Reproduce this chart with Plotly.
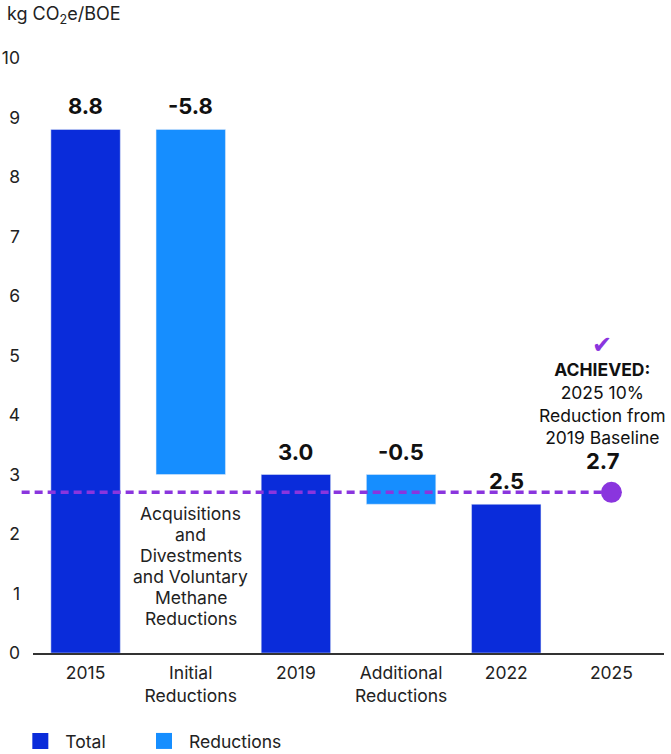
import plotly.graph_objects as go

categories = ["2015", "Initial<br>Reductions", "2019", "Additional<br>Reductions", "2022", "2025"]
total_values = [8.8, None, 3.0, None, 2.5, None]
reduction_values = [None, 5.8, None, 0.5, None, None]
reduction_bases = [None, 3.0, None, 2.5, None, None]
bar_labels = ["8.8", "-5.8", "3.0", "-0.5", "2.5", "2.7"]
target_value = 2.7
note_lines = ["Acquisitions", "and", "Divestments", "and Voluntary", "Methane", "Reductions"]
y_ticks = list(range(0, 11))

C_TOTAL = "#0A2CDA"
C_RED = "#168EFF"
C_TARGET = "#8A35DE"
FONT = "Inter"
FS = 17.5

fig = go.Figure()
fig.add_trace(go.Bar(x=categories, y=total_values, marker_color=C_TOTAL, width=0.66,
                     showlegend=False, hoverinfo="skip"))
fig.add_trace(go.Bar(x=categories, y=reduction_values, base=reduction_bases, marker_color=C_RED,
                     width=0.66, showlegend=False, hoverinfo="skip"))

n = len(categories)
fig.add_shape(type="line", xref="paper", yref="y", x0=-0.018, x1=(n - 1 + 0.5) / n,
              y0=target_value, y1=target_value, line=dict(color=C_TARGET, width=3.5, dash="8px,5px"),
              layer="above")
fig.add_trace(go.Scatter(x=[categories[-1]], y=[target_value], mode="markers",
                         marker=dict(color=C_TARGET, size=21), showlegend=False, hoverinfo="skip"))

# legend proxies (two legends for exact placement)
fig.add_trace(go.Scatter(x=[None], y=[None], mode="markers", name="Total", legend="legend",
                         marker=dict(symbol="square", size=19, color=C_TOTAL)))
fig.add_trace(go.Scatter(x=[None], y=[None], mode="markers", name="Reductions", legend="legend2",
                         marker=dict(symbol="square", size=19, color=C_RED)))

# value labels (x given as category index)
tops = []
for i in range(n):
    if total_values[i] is not None:
        tops.append(total_values[i])
    elif reduction_values[i] is not None:
        tops.append(reduction_values[i] + reduction_bases[i])
    else:
        tops.append(target_value)
for i, (t, lab) in enumerate(zip(tops, bar_labels)):
    fig.add_annotation(x=i, y=t, text=f"<b>{lab}</b>", showarrow=False, yanchor="bottom",
                       yshift=(16 if i == n - 1 else 8), xshift=(-9 if i == n - 1 else 0),
                       font=dict(size=22, color="#111111", family=FONT))

# note under initial reductions bar (one annotation per line for tighter leading)
for k, line in enumerate(note_lines):
    fig.add_annotation(x=1, y=reduction_bases[1], yanchor="middle", yshift=-39 - 21 * k,
                       showarrow=False, text=line,
                       font=dict(size=FS, color="#222222", family=FONT))

# achieved annotation
fig.add_annotation(x=n - 1, y=target_value, yanchor="bottom", yshift=42, xshift=-9,
                   showarrow=False, align="center",
                   text="<b>ACHIEVED:</b><br>2025 10%<br>Reduction from<br>2019 Baseline",
                   font=dict(size=FS, color="#111111", family=FONT))
fig.add_annotation(x=n - 1, y=target_value, yanchor="middle", yshift=147, xshift=-9,
                   showarrow=False, text="<b>✔</b>",
                   font=dict(size=24, color=C_TARGET, family="DejaVu Sans"))

# y-axis title
fig.add_annotation(xref="paper", yref="paper", x=(5 - 33) / 631, y=1 + (58 - 15) / 595,
                   xanchor="left", yanchor="middle", showarrow=False,
                   text="kg CO<sub>2</sub>e/BOE", font=dict(size=18, color="#222222", family=FONT))

legend_common = dict(orientation="h", y=-0.148, yanchor="middle", xanchor="left",
                     font=dict(size=FS, family=FONT, color="#222222"), itemwidth=40,
                     bgcolor="rgba(0,0,0,0)")

fig.update_layout(
    width=671, height=754,
    margin=dict(l=33, r=7, t=58, b=101, autoexpand=False),
    barmode="overlay",
    plot_bgcolor="white", paper_bgcolor="white",
    font=dict(family=FONT, size=FS, color="#222222"),
    showlegend=True,
    legend=dict(x=-0.028, **legend_common),
    legend2=dict(x=0.168, **legend_common),
    xaxis=dict(type="category", showgrid=False, showline=True, linecolor="#333333", linewidth=2,
               ticks="", tickfont=dict(size=FS), range=[-0.5, n - 0.5], fixedrange=True,
               automargin=False, ticklabelstandoff=3),
    yaxis=dict(range=[0, 10], tickvals=y_ticks, showgrid=False, zeroline=False, showline=False,
               ticks="", tickfont=dict(size=FS), ticklabelstandoff=12, fixedrange=True,
               automargin=False),
)

fig.write_html("out.html", config={"displayModeBar": False},
               post_script="document.body.style.margin='0';document.body.style.overflow='hidden';")
